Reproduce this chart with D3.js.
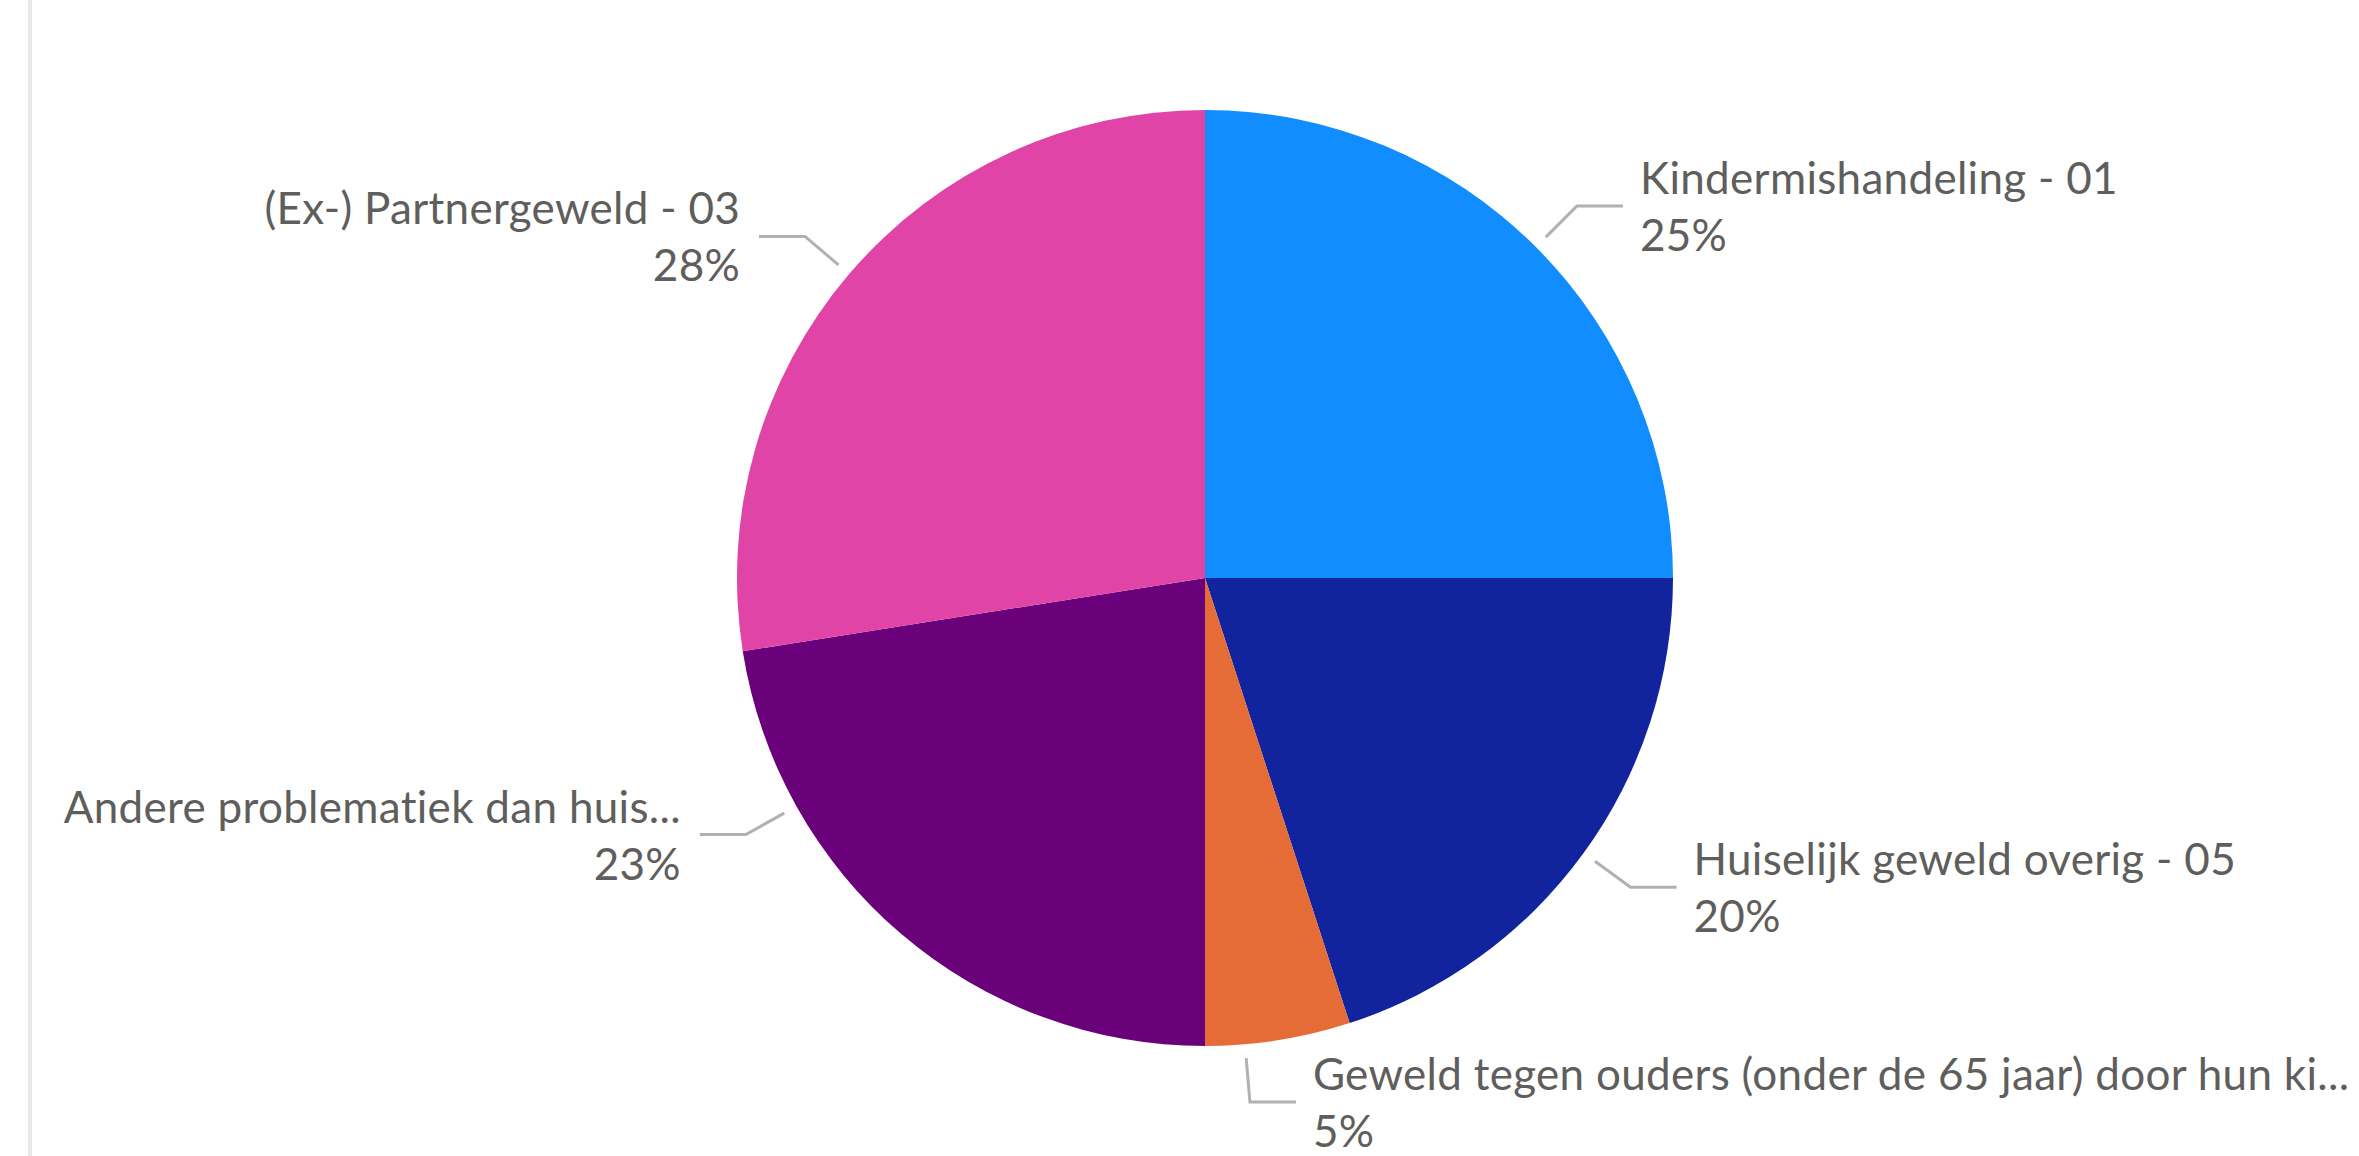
<!DOCTYPE html>
<html>
<head>
<meta charset="utf-8">
<script src="https://cdn.jsdelivr.net/npm/d3@7"></script>
<style>
  html, body { margin: 0; padding: 0; background: #ffffff; overflow: hidden; }
  svg { display: block; }
</style>
</head>
<body>
<svg id="chart"></svg>
<script>
// ---- Data ----
const categories = [
  "Kindermishandeling - 01",
  "Huiselijk geweld overig - 05",
  "Geweld tegen ouders (onder de 65 jaar) door hun ki...",
  "Andere problematiek dan huis...",
  "(Ex-) Partnergeweld - 03"
];
const values = [25, 20, 5, 22.5, 27.5];
const sliceColors = ["#118DFF", "#12239E", "#E66C37", "#6B007B", "#E044A7"];

// ---- Layout ----
const W = 2359, H = 1156;
const cx = 1205, cy = 578, R = 468;
const fontFamily = "Lato, 'Open Sans', sans-serif";
const fontSize = 44;
const textColor = "#605E5C";
const leaderColor = "#B3B0AD";
// label anchors moved along the arc (degrees) to avoid crowding, as in the reference
const labelNudge = { 2: 4.1, 3: 20.3 };

const svg = d3.select("#chart").attr("width", W).attr("height", H);

// left border line
svg.append("rect").attr("x", 28).attr("y", 0).attr("width", 4).attr("height", H).attr("fill", "#E8E8E8");

const g = svg.append("g").attr("transform", `translate(${cx},${cy})`);

const pie = d3.pie().sort(null).value(d => d.value);
const data = categories.map((c, i) => ({ name: c, value: values[i], color: sliceColors[i], idx: i }));
const arcs = pie(data);
const total = d3.sum(values);

const arc = d3.arc().innerRadius(0).outerRadius(R);

g.selectAll("path.slice").data(arcs).enter().append("path")
  .attr("class", "slice")
  .attr("d", arc)
  .attr("fill", d => d.data.color);

const r1 = R + 14, r2 = R + 58, hLen = 46;

arcs.forEach(d => {
  let a = (d.startAngle + d.endAngle) / 2 + (labelNudge[d.data.idx] || 0) * Math.PI / 180;
  const p1 = [r1 * Math.sin(a), -r1 * Math.cos(a)];
  const p2 = [r2 * Math.sin(a), -r2 * Math.cos(a)];
  const right = Math.sin(a) >= 0;
  const p3 = [p2[0] + (right ? hLen : -hLen), p2[1]];
  g.append("path")
    .attr("d", d3.line()([p1, p2, p3]))
    .attr("fill", "none")
    .attr("stroke", leaderColor)
    .attr("stroke-width", 3);

  const tx = right ? p3[0] + 17 : p3[0] - 19;
  const anchor = right ? "start" : "end";
  const t = g.append("text")
    .attr("font-family", fontFamily)
    .attr("font-size", fontSize)
    .attr("letter-spacing", 0.3)
    .attr("fill", textColor)
    .attr("text-anchor", anchor);
  t.append("tspan").attr("x", tx).attr("y", p3[1] - 12).text(d.data.name);
  t.append("tspan").attr("x", tx).attr("y", p3[1] + 45).text(Math.round(d.data.value / total * 100) + "%");
});
</script>
</body>
</html>
